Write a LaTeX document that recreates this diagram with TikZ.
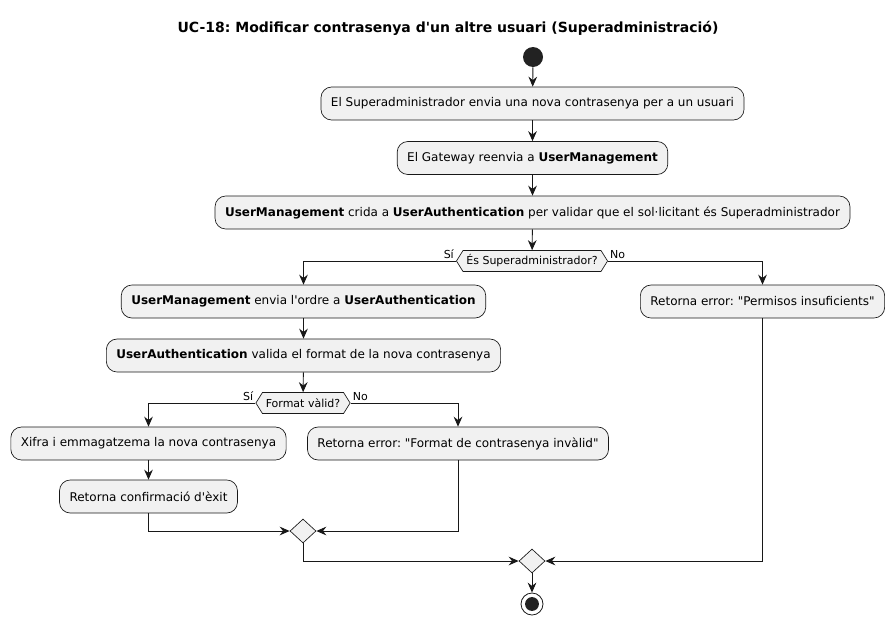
\documentclass[tikz,border=0pt]{standalone}
\usepackage{fontspec}
\setmainfont{DejaVu Sans}[Ligatures=TeXOff]
\usetikzlibrary{arrows.meta,shapes.symbols,shapes.geometric}
\definecolor{boxfill}{HTML}{F1F1F1}
\definecolor{ln}{HTML}{181818}
\definecolor{startc}{HTML}{222222}
\frenchspacing
\begin{document}
\begin{tikzpicture}[x=0.75pt,y=-0.75pt,
  act/.style={draw=ln, fill=boxfill, rounded corners=8pt, line width=0.5pt, minimum height=24.75pt, inner xsep=7.5pt, font=\fontsize{9}{11}\selectfont},
  cond/.style={shape=signal, signal to=east and west, signal pointer angle=116, draw=ln, fill=boxfill, line width=0.5pt, minimum height=15.75pt, inner xsep=2.5pt, inner ysep=1pt, font=\fontsize{8.25}{10}\selectfont},
  merge/.style={shape=diamond, draw=ln, fill=boxfill, line width=0.5pt, minimum width=19.5pt, minimum height=18pt, inner sep=0pt},
  flow/.style={draw=ln, line width=0.7pt, -{Stealth[length=7.5pt,width=6.5pt,inset=2.5pt]}},
  lab/.style={font=\fontsize{8.25}{10}\selectfont, inner sep=1.5pt}
]
\useasboundingbox (0,0) rectangle (895,625);
\node[font=\bfseries\fontsize{10.5}{12}\selectfont] (title) at (448,28) {UC-18: Modificar contrasenya d'un altre usuari (Superadministració)};
\node[circle, fill=startc, minimum size=15pt, inner sep=0pt] (start) at (533,57) {};
\node[act] (b1) at (532.5,103.5) {El Superadministrador envia una nova contrasenya per a un usuari};
\node[act] (b2) at (532.5,158) {El Gateway reenvia a \textbf{UserManagement}};
\node[act] (b3) at (532.5,212.5) {\textbf{UserManagement} crida a \textbf{UserAuthentication} per validar que el sol·licitant és Superadministrador};
\node[cond] (d1) at (532,261) {És Superadministrador?};
\node[act] (b4) at (303.5,301.5) {\textbf{UserManagement} envia l'ordre a \textbf{UserAuthentication}};
\node[act] (e1) at (762.5,301.5) {Retorna error: "Permisos insuficients"};
\node[act] (b5) at (303.5,355.5) {\textbf{UserAuthentication} valida el format de la nova contrasenya};
\node[cond] (d2) at (303,403) {Format vàlid?};
\node[act] (b6) at (148.5,443.5) {Xifra i emmagatzema la nova contrasenya};
\node[act] (e2) at (458,443.5) {Retorna error: "Format de contrasenya invàlid"};
\node[act] (b7) at (148.5,496.5) {Retorna confirmació d'èxit};
\node[merge] (m1) at (303,531) {};
\node[merge] (m2) at (532,561) {};
\node[circle, draw=ln, line width=0.6pt, fill=white, minimum size=16.5pt, inner sep=0pt] (stop) at (532,604) {};
\fill[startc] (stop.center) circle[radius=5.2pt];

\draw[flow] (start) -- (b1);
\draw[flow] (b1) -- (b2);
\draw[flow] (b2) -- (b3);
\draw[flow] (b3) -- (d1);
\draw[flow] (d1.west) -| (b4.north);
\draw[flow] (d1.east) -| (e1.north);
\node[lab, anchor=south east] at (d1.west) {Sí};
\node[lab, anchor=south west] at (d1.east) {No};
\draw[flow] (b4) -- (b5);
\draw[flow] (b5) -- (d2);
\draw[flow] (d2.west) -| (b6.north);
\draw[flow] (d2.east) -| (e2.north);
\node[lab, anchor=south east] at (d2.west) {Sí};
\node[lab, anchor=south west] at (d2.east) {No};
\draw[flow] (b6) -- (b7);
\draw[flow] (b7.south) |- (m1.west);
\draw[flow] (e2.south) |- (m1.east);
\draw[flow] (m1.south) |- (m2.west);
\draw[flow] (e1.south) |- (m2.east);
\draw[flow] (m2) -- (stop);
\end{tikzpicture}
\end{document}
